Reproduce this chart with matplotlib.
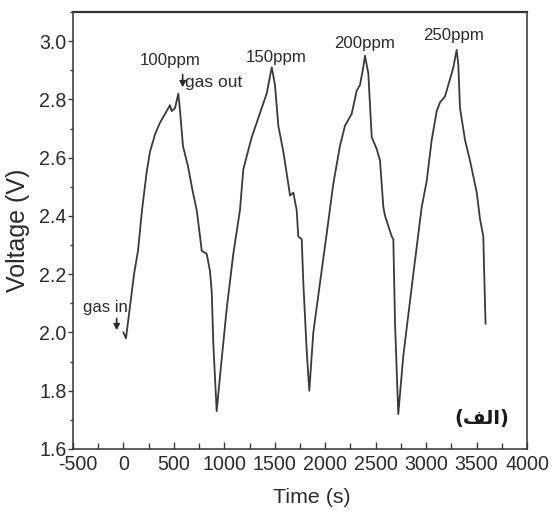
import matplotlib
matplotlib.use("Agg")
import matplotlib.pyplot as plt
from matplotlib import font_manager
from matplotlib.ticker import MultipleLocator
from matplotlib.transforms import ScaledTranslation

# ---------------- data ----------------
time_s = [0, 25, 65, 105, 144, 184, 230, 263, 313, 362, 412, 461, 478, 511, 544, 561,
          590, 640, 689, 726, 759, 776, 825, 858, 875, 891, 924, 957, 1023, 1089, 1155,
          1188, 1271, 1321, 1370, 1420, 1453, 1470, 1502, 1535, 1585, 1634, 1651, 1684,
          1717, 1733, 1767, 1783, 1816, 1842, 1882, 1948, 2015, 2080, 2146, 2196, 2262,
          2312, 2345, 2377, 2394, 2427, 2461, 2510, 2543, 2576, 2593, 2659, 2675, 2692,
          2724, 2774, 2873, 2956, 3006, 3055, 3105, 3138, 3187, 3237, 3270, 3303, 3319,
          3336, 3386, 3435, 3502, 3534, 3567, 3574, 3589]
voltage_v = [2.00, 1.98, 2.09, 2.20, 2.28, 2.42, 2.55, 2.62, 2.68, 2.72, 2.75, 2.78, 2.76,
             2.77, 2.82, 2.76, 2.64, 2.57, 2.48, 2.42, 2.33, 2.28, 2.27, 2.21, 2.14, 1.96,
             1.73, 1.85, 2.08, 2.27, 2.42, 2.56, 2.67, 2.72, 2.77, 2.82, 2.88, 2.91, 2.85,
             2.71, 2.62, 2.51, 2.47, 2.48, 2.42, 2.33, 2.32, 2.17, 1.94, 1.80, 2.00, 2.17,
             2.34, 2.51, 2.64, 2.71, 2.75, 2.83, 2.85, 2.91, 2.95, 2.89, 2.67, 2.63, 2.59,
             2.43, 2.40, 2.33, 2.32, 2.03, 1.72, 1.92, 2.20, 2.43, 2.52, 2.66, 2.76, 2.79,
             2.81, 2.87, 2.91, 2.97, 2.92, 2.77, 2.66, 2.59, 2.48, 2.39, 2.33, 2.23, 2.03]

conc_labels = ["100ppm", "150ppm", "200ppm", "250ppm"]
conc_label_t = [461, 1512, 2394, 3277]
conc_label_v = [2.917, 2.928, 2.976, 3.005]

x_ticks = [-500, 0, 500, 1000, 1500, 2000, 2500, 3000, 3500, 4000]
y_ticks = [1.6, 1.8, 2.0, 2.2, 2.4, 2.6, 2.8, 3.0]

# ---------------- fonts ----------------
names = {f.name for f in font_manager.fontManager.ttflist}
if "Liberation Sans Narrow" in names:
    FAM = ["Liberation Sans Narrow", "DejaVu Sans"]
    SC = 1.0
else:
    FAM = ["Liberation Sans", "DejaVu Sans"]
    SC = 1 / 1.2
FAM_REG = ["Liberation Sans", "DejaVu Sans"]

TXT = "#2b2b2b"
LINE = "#3a3a3a"

fig = plt.figure(figsize=(5.53, 5.15), dpi=100)
ax = fig.add_axes([73 / 553, 1 - 449 / 515, 454 / 553, 437 / 515])

ax.plot(time_s, voltage_v, color=LINE, lw=1.3, solid_joinstyle="round")

ax.set_xlim(-500, 4000)
ax.set_ylim(1.6, 3.1)
ax.set_xticks(x_ticks)
ax.set_yticks(y_ticks)
ax.set_yticklabels([f"{v:.1f}" for v in y_ticks])
ax.set_xticklabels([str(v) for v in x_ticks])
ax.xaxis.set_minor_locator(MultipleLocator(250))
ax.yaxis.set_minor_locator(MultipleLocator(0.1))

ax.tick_params(axis="x", which="major", direction="in", length=5, width=1, color=LINE, pad=4.5)
ax.tick_params(axis="x", which="minor", direction="in", length=4, width=1, color=LINE)
ax.tick_params(axis="y", which="major", direction="out", length=3.5, width=1, color=LINE, pad=1)
ax.tick_params(axis="y", which="minor", direction="out", length=2.5, width=1, color=LINE)

for lab in ax.get_xticklabels() + ax.get_yticklabels():
    lab.set_fontfamily(FAM)
    lab.set_fontsize(17 * SC)
    lab.set_color(TXT)

# the first x label sits slightly right of its tick in the reference
first = ax.get_xticklabels()[0]
first.set_transform(first.get_transform() + ScaledTranslation(5 / 100, 0, fig.dpi_scale_trans))

for s in ax.spines.values():
    s.set_color("#333333")
    s.set_linewidth(1.1)
ax.spines["top"].set_linewidth(1.6)

ax.set_xlabel("Time (s)", family=FAM, fontsize=18.5 * SC, color=TXT)
ax.xaxis.set_label_coords(0.526, -0.09)
ax.set_ylabel("Voltage (V)", family=FAM_REG, fontsize=18, color=TXT)
ax.yaxis.set_label_coords(-0.094, 0.5)

# concentration labels
for lab, t, v in zip(conc_labels, conc_label_t, conc_label_v):
    ax.text(t, v, lab, family=FAM, fontsize=14.5 * SC, color=TXT,
            ha="center", va="baseline")

# gas out arrow + text
ax.annotate("", xy=(587, 2.832), xytext=(587, 2.895),
            arrowprops=dict(arrowstyle="-|>,head_width=0.18,head_length=0.35",
                            color=TXT, lw=1.2))
ax.text(612, 2.842, "gas out", family=FAM, fontsize=15 * SC, color=TXT,
        ha="left", va="baseline")

# gas in arrow + text
ax.annotate("", xy=(-67, 1.998), xytext=(-67, 2.058),
            arrowprops=dict(arrowstyle="-|>,head_width=0.18,head_length=0.35",
                            color=TXT, lw=1.2))
ax.text(-183, 2.071, "gas in", family=FAM, fontsize=14.5 * SC, color=TXT,
        ha="center", va="baseline")

# Arabic panel label "(الف)" written in shaped (presentation) forms, visual order
arabic_label = "(\ufed2\ufedf\ufe8d)"
ax.text(3554, 1.703, arabic_label, family=["DejaVu Sans"], fontsize=14,
        fontweight="bold", color="#1a1a1a", ha="center", va="center")

fig.savefig("out.png", dpi=100)
